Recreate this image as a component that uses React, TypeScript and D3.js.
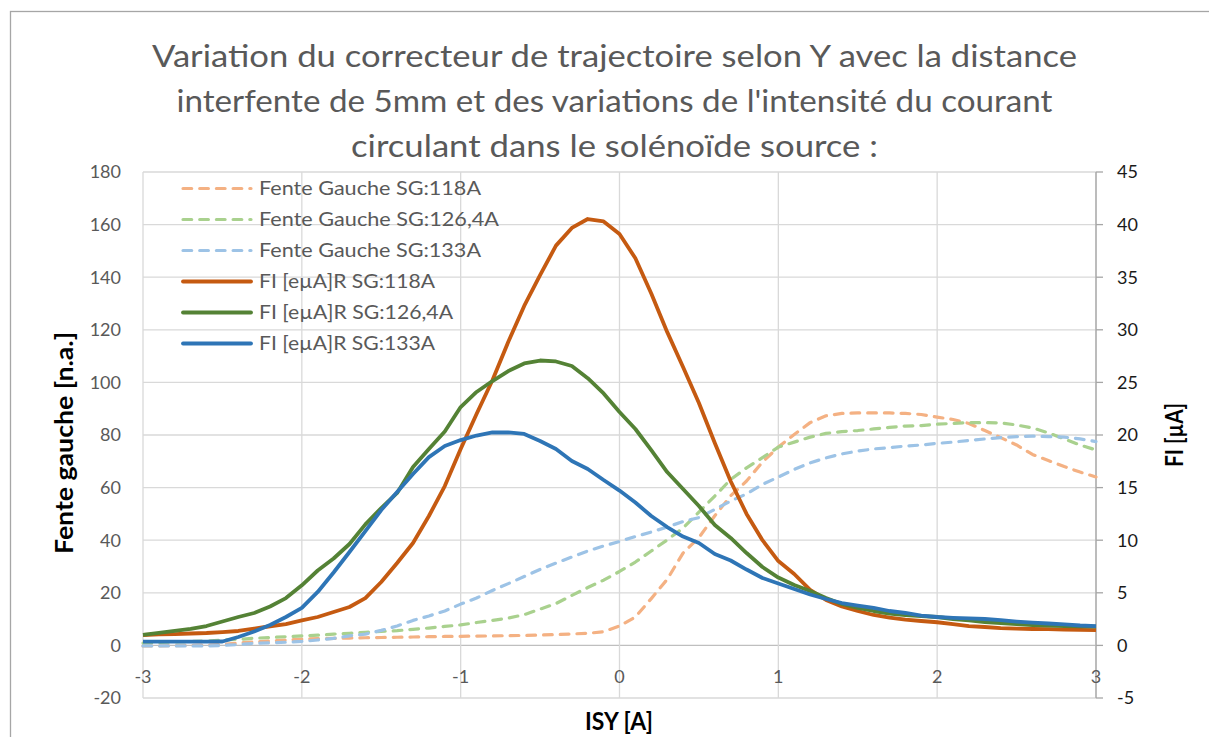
import React from "react";
import * as d3 from "d3";

const isy = [-3.0,-2.9,-2.8,-2.7,-2.6,-2.5,-2.4,-2.3,-2.2,-2.1,-2.0,-1.9,-1.8,-1.7,-1.6,-1.5,-1.4,-1.3,-1.2,-1.1,-1.0,-0.9,-0.8,-0.7,-0.6,-0.5,-0.4,-0.3,-0.2,-0.1,0.0,0.1,0.2,0.3,0.4,0.5,0.6,0.7,0.8,0.9,1.0,1.1,1.2,1.3,1.4,1.5,1.6,1.7,1.8,1.9,2.0,2.1,2.2,2.3,2.4,2.5,2.6,2.7,2.8,2.9,3.0];

// Fente gauche [n.a.] (left axis)
const fg118 = [-0.2,-0.15,-0.1,0.05,0.1,0.3,0.9,1.3,1.7,2.05,2.4,2.55,2.65,2.8,2.9,3.0,3.1,3.2,3.3,3.4,3.45,3.55,3.6,3.7,3.8,3.95,4.1,4.35,4.6,5.2,7.4,10.8,17.8,25.1,35.1,41.0,49.3,56.9,62.5,69.7,75.4,80.2,84.7,87.3,88.2,88.4,88.4,88.4,88.2,87.8,86.8,85.9,84.4,81.7,79.0,76.2,72.6,70.3,68.0,65.9,64.0];
const fg126 = [0.9,1.1,1.3,1.5,1.7,2.05,2.3,2.7,3.0,3.3,3.6,3.9,4.3,4.6,5.0,5.3,5.6,6.1,6.6,7.2,7.8,8.7,9.5,10.4,11.7,13.8,15.9,19.0,22.0,24.8,28.1,31.7,35.9,40.1,44.6,50.7,56.8,63.1,67.5,71.4,75.4,77.3,79.2,80.6,81.3,81.7,82.3,82.9,83.4,83.6,84.1,84.4,84.7,84.7,84.6,83.8,82.7,80.8,78.5,76.2,74.3];
const fg133 = [-0.2,-0.2,-0.2,-0.2,-0.2,0,0.3,0.8,1.0,1.2,1.5,2.05,2.7,3.6,4.3,5.7,7.4,9.5,11.2,13.1,15.7,18.0,20.9,23.5,26.2,28.9,31.3,33.6,35.9,37.8,39.5,41.4,43.1,45.0,47.1,48.6,51.7,54.9,57.6,61.2,64.0,66.9,69.4,71.3,72.8,73.9,74.7,75.2,75.8,76.2,76.8,77.3,77.9,78.5,79.0,79.4,79.6,79.4,79.2,78.5,77.5];

// FI [µA] (right axis)
const fi118 = [0.99,1.04,1.08,1.13,1.18,1.27,1.37,1.6,1.82,2.03,2.37,2.7,3.17,3.65,4.5,6.03,7.83,9.73,12.3,15.15,18.67,22.0,25.2,28.86,32.27,35.2,38.0,39.68,40.53,40.3,39.1,36.8,33.45,29.8,26.46,23.04,19.24,15.6,12.5,10.0,8.02,6.79,5.27,4.32,3.7,3.27,2.89,2.65,2.46,2.32,2.2,2.03,1.84,1.75,1.65,1.6,1.56,1.54,1.5,1.48,1.46];
const fi126 = [0.99,1.18,1.37,1.56,1.84,2.27,2.7,3.08,3.7,4.5,5.71,7.12,8.26,9.64,11.5,13.06,14.49,16.96,18.67,20.33,22.66,24.09,25.13,26.08,26.8,27.08,26.99,26.56,25.4,23.95,22.19,20.57,18.57,16.48,14.87,13.25,11.44,10.21,8.78,7.45,6.45,5.74,5.17,4.5,3.94,3.56,3.27,3.03,2.87,2.79,2.7,2.51,2.37,2.22,2.13,2.03,1.94,1.89,1.84,1.8,1.78];
const fi133 = [0.35,0.35,0.35,0.35,0.35,0.37,0.8,1.32,1.94,2.7,3.56,5.08,6.93,8.88,10.87,12.87,14.58,16.29,17.9,18.95,19.52,19.95,20.24,20.24,20.1,19.43,18.67,17.53,16.77,15.72,14.72,13.58,12.3,11.25,10.35,9.73,8.69,8.07,7.21,6.41,5.88,5.36,4.84,4.41,4.03,3.79,3.56,3.27,3.08,2.84,2.7,2.62,2.56,2.51,2.41,2.27,2.16,2.08,1.99,1.89,1.84];

const xTicks = [-3,-2,-1,0,1,2,3];
const leftTicks = [-20,0,20,40,60,80,100,120,140,160,180];
const rightTicks = [-5,0,5,10,15,20,25,30,35,40,45];

const titleLines = [
  "Variation du correcteur de trajectoire selon Y avec la distance",
  "interfente de 5mm et des variations de l'intensité du courant",
  "circulant dans le solénoïde source :",
];
const titleWidths = [925, 876, 527];

const seriesNames = [
  "Fente Gauche SG:118A",
  "Fente Gauche SG:126,4A",
  "Fente Gauche SG:133A",
  "FI [eµA]R SG:118A",
  "FI [eµA]R SG:126,4A",
  "FI [eµA]R SG:133A",
];
const legendWidths = [222, 240, 222, 176, 194, 176];

const FONT = "Lato, 'Open Sans', sans-serif";

export default function App() {
  const W = 1209, H = 737;
  const x = d3.scaleLinear().domain([-3, 3]).range([143, 1096]);
  const yL = d3.scaleLinear().domain([-20, 180]).range([698, 172]);
  const yR = d3.scaleLinear().domain([-5, 45]).range([698, 172]);

  const mkLine = (vals: number[], ys: d3.ScaleLinear<number, number>) =>
    d3.line<number>().x((_, i) => x(isy[i])).y((v) => ys(v)).curve(d3.curveLinear)(vals) || "";

  const series = [
    { name: seriesNames[0], vals: fg118, ys: yL, color: "#F4B183", dashed: true },
    { name: seriesNames[1], vals: fg126, ys: yL, color: "#A9D18E", dashed: true },
    { name: seriesNames[2], vals: fg133, ys: yL, color: "#9DC3E6", dashed: true },
    { name: seriesNames[3], vals: fi118, ys: yR, color: "#C55A11", dashed: false },
    { name: seriesNames[4], vals: fi126, ys: yR, color: "#548235", dashed: false },
    { name: seriesNames[5], vals: fi133, ys: yR, color: "#2E75B6", dashed: false },
  ];

  const dashArr = "8.7 8";
  const grid = "#d9d9d9";
  return (
    <svg width={W} height={H} style={{ position: "absolute", left: 0, top: 0, background: "#fff" }} fontFamily={FONT}>
      <rect x={0} y={0} width={W} height={H} fill="#fff" />
      <rect x={10.5} y={11.5} width={1400} height={900} fill="none" stroke="#a6a6a6" strokeWidth={1.3} />
      {/* title */}
      {titleLines.map((t, i) => (
        <text key={i} x={614.5} y={67 + i * 45} textAnchor="middle" fontSize={31} fill="#595959"
          textLength={titleWidths[i]} lengthAdjust="spacingAndGlyphs">{t}</text>
      ))}
      {/* gridlines */}
      {leftTicks.map((t) => (
        <line key={"h" + t} x1={143} x2={1096} y1={yL(t)} y2={yL(t)} stroke={t === 0 ? "#bfbfbf" : grid} strokeWidth={1.3} />
      ))}
      {xTicks.map((t) => (
        <line key={"v" + t} x1={x(t)} x2={x(t)} y1={172} y2={698} stroke={grid} strokeWidth={1.3} />
      ))}
      {/* right axis */}
      <line x1={1096} x2={1096} y1={172} y2={698} stroke="#a6a6a6" strokeWidth={1.3} />
      {rightTicks.map((t) => (
        <line key={"rt" + t} x1={1096} x2={1103} y1={yR(t)} y2={yR(t)} stroke="#a6a6a6" strokeWidth={1.3} />
      ))}
      {/* tick labels */}
      {leftTicks.map((t) => (
        <text key={"lt" + t} x={121} y={yL(t)} dy="0.35em" textAnchor="end" fontSize={18} fill="#595959">{t}</text>
      ))}
      {rightTicks.map((t) => (
        <text key={"rl" + t} x={1117} y={yR(t)} dy="0.35em" textAnchor="start" fontSize={18} fill="#1a1a1a">{t}</text>
      ))}
      {xTicks.map((t) => (
        <text key={"xl" + t} x={x(t)} y={683} textAnchor="middle" fontSize={18} fill="#595959">{t}</text>
      ))}
      {/* axis titles */}
      <text x={619} y={730} textAnchor="middle" fontSize={24} fontWeight="bold" fill="#000"
        textLength={68} lengthAdjust="spacingAndGlyphs">ISY [A]</text>
      <text transform="translate(73,443) rotate(-90)" textAnchor="middle" fontSize={24} fontWeight="bold" fill="#000"
        textLength={222} lengthAdjust="spacingAndGlyphs">Fente gauche [n.a.]</text>
      <text transform="translate(1183,435) rotate(-90)" textAnchor="middle" fontSize={24} fontWeight="bold" fill="#000"
        textLength={64} lengthAdjust="spacingAndGlyphs">FI [µA]</text>
      {/* series */}
      {series.map((s, i) => (
        <path key={"s" + i} d={mkLine(s.vals, s.ys)} fill="none" stroke={s.color}
          strokeWidth={s.dashed ? 3.2 : 3.8} strokeDasharray={s.dashed ? dashArr : undefined}
          strokeLinecap={s.dashed ? "round" : "butt"} strokeLinejoin="round" />
      ))}
      {/* legend */}
      {series.map((s, i) => {
        const yy = 188.5 + i * 31;
        return (
          <g key={"lg" + i}>
            <line x1={183} x2={251} y1={yy} y2={yy} stroke={s.color} strokeWidth={s.dashed ? 3.2 : 3.8}
              strokeDasharray={s.dashed ? dashArr : undefined} strokeLinecap="round" />
            <text x={259} y={yy} dy="0.35em" fontSize={19} fill="#595959"
              textLength={legendWidths[i]} lengthAdjust="spacingAndGlyphs">{s.name}</text>
          </g>
        );
      })}
    </svg>
  );
}
